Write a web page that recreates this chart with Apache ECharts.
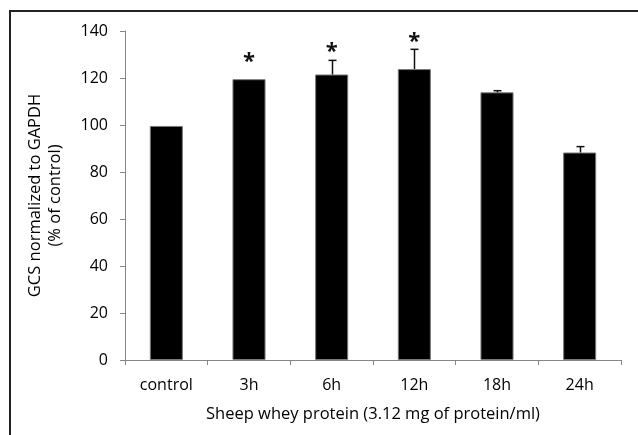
<!DOCTYPE html>
<html>
<head>
<meta charset="utf-8">
<script src="https://cdn.jsdelivr.net/npm/echarts@6/dist/echarts.min.js"></script>
<style>html,body{margin:0;padding:0;background:#fff}#c{width:638px;height:435px}</style>
</head>
<body>
<div id="c"></div>
<script>
const categories = ['control', '3h', '6h', '12h', '18h', '24h'];
const values = [99.6, 119.5, 121.5, 123.8, 113.9, 88.3];
const errors = [0, 0, 6, 8.4, 0.7, 2.5];
const starPositions = [null, 128.9, 133.2, 137.4, null, null];
const yTicks = [0, 20, 40, 60, 80, 100, 120, 140];

const FONT = "'Open Sans', 'Liberation Sans', sans-serif";
const chart = echarts.init(document.getElementById('c'), null, {renderer: 'canvas'});

const errData = categories.map((c, i) => [i, values[i], errors[i]]);
const starData = categories.map((c, i) => [i, starPositions[i]]).filter(d => d[1] != null);

chart.setOption({
  animation: false,
  backgroundColor: '#fff',
  graphic: [{
    type: 'rect',
    shape: {x: 10, y: 11, width: 640, height: 440},
    style: {fill: 'none', stroke: '#222', lineWidth: 2},
    silent: true
  }],
  grid: {left: 125, right: 17, top: 31, bottom: 75, containLabel: false},
  xAxis: {
    type: 'category',
    data: categories,
    name: 'Sheep whey protein (3.12 mg of protein/ml)',
    nameLocation: 'middle',
    nameGap: 46,
    nameTextStyle: {fontFamily: FONT, fontSize: 16.5, color: '#000'},
    axisLine: {lineStyle: {color: '#868686', width: 1}},
    axisTick: {show: true, alignWithLabel: false, length: 5, lineStyle: {color: '#868686'}},
    axisLabel: {fontFamily: FONT, fontSize: 16, color: '#000', margin: 17}
  },
  yAxis: {
    type: 'value',
    min: 0, max: 140, interval: 20,
    name: 'GCS normalized to GAPDH\n(% of control)',
    nameLocation: 'middle',
    nameGap: 60,
    nameRotate: 90,
    nameTextStyle: {fontFamily: FONT, fontSize: 16.5, color: '#000', lineHeight: 20},
    axisLine: {show: true, lineStyle: {color: '#868686', width: 1}},
    axisTick: {show: true, length: 5, lineStyle: {color: '#868686'}},
    splitLine: {show: false},
    axisLabel: {fontFamily: FONT, fontSize: 16, color: '#000', margin: 17,
      formatter: v => yTicks.includes(v) ? String(v) : ''}
  },
  series: [
    {
      type: 'bar',
      data: values,
      barWidth: '40%',
      itemStyle: {color: '#000', borderColor: '#7a7a7a', borderWidth: 1},
      z: 2
    },
    {
      type: 'custom',
      data: errData,
      z: 3,
      renderItem: function (params, api) {
        const i = api.value(0), v = api.value(1), e = api.value(2);
        if (!e) return null;
        const base = api.coord([i, v]);
        const top = api.coord([i, v + e]);
        const x = Math.round(base[0]) + 0.5;
        return {
          type: 'group',
          children: [
            {type: 'line', shape: {x1: x, y1: base[1], x2: x, y2: top[1]}, style: {stroke: '#111', lineWidth: 1.5}},
            {type: 'line', shape: {x1: x - 4, y1: top[1], x2: x + 4, y2: top[1]}, style: {stroke: '#111', lineWidth: 1.5}}
          ]
        };
      }
    },
    {
      type: 'custom',
      data: starData,
      z: 4,
      renderItem: function (params, api) {
        const p = api.coord([api.value(0), api.value(1)]);
        return {
          type: 'text',
          style: {text: '*', x: p[0], y: p[1] + 5, align: 'center', verticalAlign: 'middle',
            font: "bold 22px " + FONT, fill: '#111'}
        };
      }
    }
  ]
});
</script>
</body>
</html>
